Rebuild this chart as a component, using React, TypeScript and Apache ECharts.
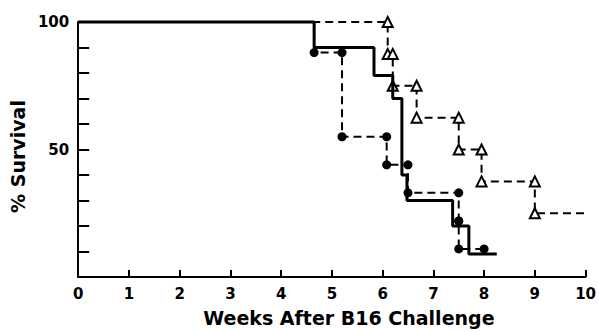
import React, { useEffect, useRef } from "react";
import * as echarts from "echarts";

// Kaplan-Meier curves: level i lasts from times[i] to times[i+1]
const solidTimes = [0, 4.65, 5.83, 6.2, 6.38, 6.48, 7.38, 7.7, 8.25];
const solidSurv = [100, 90, 79, 70, 40, 30, 20, 9];

const circleTimes = [0, 4.65, 5.2, 6.08, 6.5, 7.5, 7.5, 8.0];
const circleSurv = [100, 88, 55, 44, 33, 22, 11];

const triangleTimes = [0, 6.1, 6.2, 6.67, 7.5, 7.95, 9.0, 10];
const triangleSurv = [100, 87.5, 75, 62.5, 50, 37.5, 25];

const xTicks = [0, 1, 2, 3, 4, 5, 6, 7, 8, 9, 10];
const yLabels = [50, 100];

const FONT = "DejaVu Sans";

function buildSteps(
  times: number[],
  surv: number[],
  markFirstEnd: boolean,
  markLastEnd: boolean,
  withMarks: boolean
) {
  const pts: any[] = [];
  const n = surv.length;
  for (let i = 0; i < n; i++) {
    const startMark = withMarks && i >= 1;
    const endMark =
      withMarks && ((i === 0 && markFirstEnd) || (i === n - 1 ? markLastEnd : i >= 1));
    pts.push({ value: [times[i], surv[i]], symbol: startMark ? undefined : "none" });
    pts.push({ value: [times[i + 1], surv[i]], symbol: endMark ? undefined : "none" });
  }
  return pts;
}

export default function App() {
  const ref = useRef<HTMLDivElement>(null);
  useEffect(() => {
    if (!ref.current) return;
    const chart = echarts.init(ref.current, undefined, { renderer: "svg" });
    const axisLine = { lineStyle: { color: "#000", width: 2 } };
    chart.setOption({
      animation: false,
      backgroundColor: "#fff",
      grid: { left: 76, right: 11, top: 22, bottom: 52 },
      xAxis: {
        type: "value",
        min: 0,
        max: 10,
        interval: 1,
        axisLine,
        axisTick: { inside: true, length: 7, lineStyle: { color: "#000", width: 2 } },
        splitLine: { show: false },
        axisLabel: {
          margin: 9,
          color: "#000",
          fontFamily: FONT,
          fontWeight: "bold",
          fontSize: 15,
          formatter: (v: number) => (xTicks.includes(v) ? String(v) : ""),
        },
        name: "Weeks After B16 Challenge",
        nameLocation: "middle",
        nameGap: 31,
        nameTextStyle: {
          color: "#000",
          fontFamily: FONT,
          fontWeight: "bold",
          fontSize: 19,
          padding: [0, 0, 0, 34],
        },
      },
      yAxis: {
        type: "value",
        min: 0,
        max: 100,
        interval: 10,
        axisLine,
        axisTick: { inside: true, length: 11, lineStyle: { color: "#000", width: 2 } },
        splitLine: { show: false },
        axisLabel: {
          margin: 9,
          color: "#000",
          fontFamily: FONT,
          fontWeight: "bold",
          fontSize: 15,
          formatter: (v: number) => (yLabels.includes(v) ? String(v) : ""),
        },
        name: "% Survival",
        nameLocation: "middle",
        nameGap: 36,
        nameTextStyle: {
          color: "#000",
          fontFamily: FONT,
          fontWeight: "bold",
          fontSize: 19,
          padding: [0, 14, 0, 0],
        },
      },
      series: [
        {
          type: "line",
          data: buildSteps(triangleTimes, triangleSurv, true, false, true),
          symbol: "triangle",
          symbolSize: 10,
          showSymbol: true,
          showAllSymbol: true,
          clip: false,
          lineStyle: { color: "#000", width: 2, type: [8, 5] },
          itemStyle: { color: "#fff", borderColor: "#000", borderWidth: 2 },
          z: 3,
        },
        {
          type: "line",
          data: buildSteps(circleTimes, circleSurv, false, true, true),
          symbol: "circle",
          symbolSize: 9,
          showSymbol: true,
          showAllSymbol: true,
          clip: false,
          lineStyle: { color: "#000", width: 2, type: [8, 5] },
          itemStyle: { color: "#000", borderColor: "#000", borderWidth: 0 },
          z: 4,
        },
        {
          type: "line",
          data: buildSteps(solidTimes, solidSurv, false, false, false),
          symbol: "none",
          showSymbol: false,
          clip: false,
          lineStyle: { color: "#000", width: 3 },
          z: 5,
        },
      ],
    });
    return () => chart.dispose();
  }, []);
  return <div ref={ref} style={{ width: 599, height: 332, position: "absolute", left: 0, top: 0 }} />;
}
